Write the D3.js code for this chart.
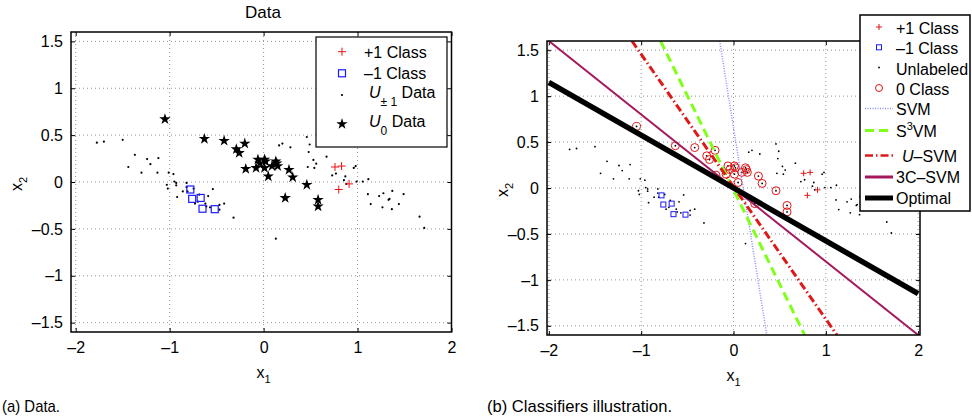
<!DOCTYPE html>
<html>
<head>
<meta charset="utf-8">
<script src="https://cdn.jsdelivr.net/npm/d3@7"></script>
<style>
  body { margin: 0; background: #fff; }
  svg text { font-family: "Liberation Sans", Arial, sans-serif; fill: #000; }
  .caption { font-family: "Liberation Sans Narrow", "Liberation Sans", sans-serif; font-size: 17px; }
</style>
</head>
<body>
<svg id="chart"></svg>
<script>
// ---- data ----
const xTicks = [-2, -1, 0, 1, 2];
const yTicks = [-1.5, -1, -0.5, 0, 0.5, 1, 1.5];

// +1 class (red plus)
const posClass = [[0.76, 0.16], [0.83, 0.17], [0.80, -0.08], [0.91, -0.02]];
// -1 class (blue squares)
const negClass = [[-0.78, -0.08], [-0.76, -0.18], [-0.67, -0.17], [-0.65, -0.285], [-0.52, -0.29]];
// unlabeled points belonging to +1/-1 (small dots)
const unlabeled = [
  [-1.775, 0.42], [-1.70, 0.43], [-1.50, 0.45], [-1.37, 0.29], [-1.44, 0.16], [-1.24, 0.245],
  [-1.205, 0.19], [-1.12, 0.255], [-1.30, 0.10], [-1.13, 0.10], [-1.01, 0.10], [-0.96, 0.085],
  [-0.95, 0.005], [-0.93, -0.01], [-0.93, -0.035], [-1.03, -0.03], [-1.02, -0.07], [-0.92, -0.16],
  [-0.82, -0.01], [-0.82, -0.055], [-0.86, -0.10], [-0.81, -0.10], [-0.745, -0.07], [-0.73, -0.23],
  [-0.70, -0.21], [-0.685, -0.135], [-0.62, -0.23], [-0.61, -0.26], [-0.59, -0.15], [-0.54, -0.075],
  [-0.57, -0.27], [-0.47, -0.245], [-0.47, -0.295], [-0.42, -0.23], [-0.32, -0.38],
  [0.165, 0.39], [0.20, 0.41], [0.285, 0.37], [0.46, 0.48], [0.49, 0.40], [0.48, 0.32],
  [0.53, 0.235], [0.56, 0.195], [0.54, 0.15], [0.47, 0.16], [0.67, 0.27], [0.73, 0.07],
  [0.77, 0.09], [0.87, 0.06], [0.855, 0.02], [0.88, -0.02], [0.96, 0.15], [0.98, 0.17],
  [0.99, 0.005], [1.055, 0.005], [1.115, 0.03], [1.11, -0.13], [1.14, -0.235], [1.23, -0.15],
  [1.265, -0.27], [1.275, -0.12], [1.34, -0.18], [1.33, -0.19], [1.37, -0.095], [1.365, -0.29],
  [1.44, -0.235], [1.49, -0.13], [1.66, -0.37], [1.71, -0.49], [0.13, -0.605]
];
// U0 points (stars left, red circles right)
const zeroClass = [
  [-1.05, 0.67], [-0.63, 0.46], [-0.42, 0.44], [-0.29, 0.35], [-0.26, 0.31], [-0.20, 0.41],
  [-0.19, 0.14], [-0.08, 0.15], [-0.06, 0.24], [-0.04, 0.20], [0.01, 0.24], [0.01, 0.15],
  [0.02, 0.22], [0.09, 0.17], [0.13, 0.22], [0.15, 0.17], [0.14, 0.20], [0.05, 0.06],
  [0.27, 0.13], [0.31, 0.05], [0.23, -0.17], [0.46, -0.03], [0.58, -0.19], [0.58, -0.26]
];
// classifier boundaries (end points)
const svmLine = [[-0.15, 1.6], [0.36, -1.6]];
const s3vmLine = [[-0.79, 1.6], [0.77, -1.6]];
const usvmLine = [[-1.10, 1.6], [1.12, -1.6]];
const c3svmLine = [[-2, 1.6], [2, -1.6]];
const optimalLine = [[-2, 1.15], [2, -1.15]];

const W = 972, H = 417;
const FS = '16px';
const svg = d3.select('#chart').attr('width', W).attr('height', H);
const fmt = d => d < 0 ? '\u2013' + Math.abs(d) : String(d);

function makePanel(id, box) {
  const x = d3.scaleLinear().domain(box.xdom).range([box.left, box.right]);
  const y = d3.scaleLinear().domain([-1.6, 1.6]).range([box.bottom, box.top]);
  const g = svg.append('g').attr('id', id);

  g.append('clipPath').attr('id', id + '-clip')
    .append('rect')
    .attr('x', box.left).attr('y', box.top)
    .attr('width', box.right - box.left).attr('height', box.bottom - box.top);

  // grid
  const grid = g.append('g').attr('stroke', '#777').attr('stroke-width', 0.8).attr('stroke-dasharray', '1,3');
  grid.selectAll('.gx').data(xTicks).enter().append('line')
    .attr('x1', d => x(d)).attr('x2', d => x(d)).attr('y1', box.top).attr('y2', box.bottom);
  grid.selectAll('.gy').data(yTicks).enter().append('line')
    .attr('y1', d => y(d)).attr('y2', d => y(d)).attr('x1', box.left).attr('x2', box.right);

  // axes with inward ticks on all sides
  const tk = 4;
  const axB = g.append('g').attr('transform', `translate(0,${box.bottom})`)
    .call(d3.axisBottom(x).tickValues(xTicks).tickSize(-tk).tickPadding(10).tickFormat(fmt));
  const axT = g.append('g').attr('transform', `translate(0,${box.top})`)
    .call(d3.axisTop(x).tickValues(xTicks).tickSize(-tk).tickFormat(''));
  const axL = g.append('g').attr('transform', `translate(${box.left},0)`)
    .call(d3.axisLeft(y).tickValues(yTicks).tickSize(-tk).tickPadding(8).tickFormat(fmt));
  const axR = g.append('g').attr('transform', `translate(${box.right},0)`)
    .call(d3.axisRight(y).tickValues(yTicks).tickSize(-tk).tickFormat(''));
  [axB, axT, axL, axR].forEach(a => {
    a.select('.domain').remove();
    a.selectAll('line').attr('stroke', '#000');
    a.selectAll('text').style('font-size', FS).style('font-family', '"Liberation Sans", Arial, sans-serif');
  });

  const plot = g.append('g').attr('clip-path', `url(#${id}-clip)`);

  // box
  g.append('rect')
    .attr('x', box.left).attr('y', box.top)
    .attr('width', box.right - box.left).attr('height', box.bottom - box.top)
    .attr('fill', 'none').attr('stroke', '#000').attr('stroke-width', 1.5);

  // axis labels
  const mid = x(0);
  const xl = g.append('text').attr('x', mid).attr('y', box.bottom + 46)
    .attr('text-anchor', 'middle').style('font-size', FS);
  xl.append('tspan').text('x');
  xl.append('tspan').attr('dy', 5).style('font-size', '11px').text('1');

  const yl = g.append('text')
    .attr('transform', `translate(${box.ylabel},${(box.top + box.bottom) / 2 + 2}) rotate(-90)`)
    .attr('text-anchor', 'middle').style('font-size', FS);
  yl.append('tspan').text('x');
  yl.append('tspan').attr('dy', 5).style('font-size', '11px').text('2');

  return { x, y, g, plot };
}

function plusPath(s) {
  return `M${-s},0H${s}M0,${-s}V${s}`;
}

// ---------- panel (a) ----------
const A = makePanel('pa', { left: 71, right: 451.5, top: 32, bottom: 332, ylabel: 22, xdom: [-2.05, 2] });

A.plot.selectAll('.u').data(unlabeled).enter().append('circle')
  .attr('cx', d => A.x(d[0])).attr('cy', d => A.y(d[1])).attr('r', 1.1).attr('fill', '#000');
A.plot.selectAll('.z').data(zeroClass).enter().append('path')
  .attr('transform', d => `translate(${A.x(d[0])},${A.y(d[1])})`)
  .attr('d', d3.symbol(d3.symbolStar, 40)).attr('fill', '#000');
A.plot.selectAll('.p').data(posClass).enter().append('path')
  .attr('transform', d => `translate(${A.x(d[0])},${A.y(d[1])})`)
  .attr('d', plusPath(4)).attr('stroke', '#ee1111').attr('stroke-width', 1).attr('fill', 'none');
A.plot.selectAll('.n').data(negClass).enter().append('rect')
  .attr('x', d => A.x(d[0]) - 3.5).attr('y', d => A.y(d[1]) - 3.5)
  .attr('width', 7).attr('height', 7)
  .attr('fill', 'none').attr('stroke', '#1a1aff').attr('stroke-width', 1.2);

A.g.append('text').attr('x', 263).attr('y', 18).attr('text-anchor', 'middle')
  .style('font-size', '17px').text('Data');

// legend (a)
const LA = A.g.append('g');
LA.append('rect').attr('x', 316).attr('y', 37).attr('width', 131).attr('height', 110)
  .attr('fill', '#fff').attr('stroke', '#000').attr('stroke-width', 1.2);
const la = [51.7, 73.3, 97, 126];
LA.append('path').attr('transform', `translate(342,${la[0]})`).attr('d', plusPath(4))
  .attr('stroke', '#ee1111').attr('fill', 'none');
LA.append('rect').attr('x', 338.5).attr('y', la[1] - 3.5).attr('width', 7).attr('height', 7)
  .attr('fill', 'none').attr('stroke', '#1a1aff').attr('stroke-width', 1.2);
LA.append('circle').attr('cx', 342).attr('cy', la[2] - 2).attr('r', 1.1).attr('fill', '#000');
LA.append('path').attr('transform', `translate(342,${la[3] - 2})`).attr('d', d3.symbol(d3.symbolStar, 40));
LA.append('text').attr('x', 364).attr('y', la[0] + 6).style('font-size', FS).text('+1 Class');
LA.append('text').attr('x', 364).attr('y', la[1] + 6).style('font-size', FS).text('\u20131 Class');
const t3 = LA.append('text').attr('x', 369).attr('y', la[2] + 1).style('font-size', FS);
t3.append('tspan').style('font-style', 'italic').text('U');
t3.append('tspan').attr('dy', 8).style('font-size', '12px').text('\u00b1 1');
t3.append('tspan').attr('dy', -8).text(' Data');
const t4 = LA.append('text').attr('x', 369).attr('y', la[3] + 1).style('font-size', FS);
t4.append('tspan').style('font-style', 'italic').text('U');
t4.append('tspan').attr('dy', 8).style('font-size', '12px').text('0');
t4.append('tspan').attr('dy', -8).text(' Data');

// ---------- panel (b) ----------
const B = makePanel('pb', { left: 547, right: 920, top: 41, bottom: 335, ylabel: 508, xdom: [-2.02, 2.02] });

B.plot.selectAll('.u').data(unlabeled.concat(zeroClass)).enter().append('circle')
  .attr('cx', d => B.x(d[0])).attr('cy', d => B.y(d[1])).attr('r', 0.9).attr('fill', '#000');
B.plot.selectAll('.z').data(zeroClass).enter().append('circle')
  .attr('cx', d => B.x(d[0])).attr('cy', d => B.y(d[1])).attr('r', 4)
  .attr('fill', 'none').attr('stroke', '#e01515').attr('stroke-width', 1);
B.plot.selectAll('.p').data(posClass).enter().append('path')
  .attr('transform', d => `translate(${B.x(d[0])},${B.y(d[1])})`)
  .attr('d', plusPath(3)).attr('stroke', '#e01515').attr('stroke-width', 1).attr('fill', 'none');
B.plot.selectAll('.n').data(negClass).enter().append('rect')
  .attr('x', d => B.x(d[0]) - 2.5).attr('y', d => B.y(d[1]) - 2.5)
  .attr('width', 5).attr('height', 5)
  .attr('fill', 'none').attr('stroke', '#1a1aff').attr('stroke-width', 1);

const lineStyles = [
  { name: 'svm', pts: svmLine, color: '#8c8cff', width: 1.5, dash: '1,1.5', lw: 1.5 },
  { name: 's3vm', pts: s3vmLine, color: '#80ff1a', width: 3, dash: '9,5', lw: 3 },
  { name: 'usvm', pts: usvmLine, color: '#dd1a1a', width: 3, dash: '8,3,1.5,3', lw: 2.5 },
  { name: 'c3svm', pts: c3svmLine, color: '#a3195b', width: 2, dash: null, lw: 3 },
  { name: 'optimal', pts: optimalLine, color: '#000', width: 5.5, dash: null, lw: 5 }
];
const lineGen = d3.line().x(d => B.x(d[0])).y(d => B.y(d[1]));
lineStyles.forEach(s => {
  B.plot.append('path').datum(s.pts).attr('d', lineGen)
    .attr('fill', 'none').attr('stroke', s.color).attr('stroke-width', s.width)
    .attr('stroke-dasharray', s.dash);
});

// legend (b)
const LB = B.g.append('g');
LB.append('rect').attr('x', 860).attr('y', 15).attr('width', 110).attr('height', 196)
  .attr('fill', '#fff').attr('stroke', '#000').attr('stroke-width', 1.5);
const lb = [29, 49.3, 69.5, 90, 109.5, 131.5, 156.5, 178, 199];
const mx = 879;
LB.append('path').attr('transform', `translate(${mx},${lb[0] - 2})`).attr('d', plusPath(3))
  .attr('stroke', '#e01515').attr('fill', 'none');
LB.append('rect').attr('x', mx - 2.5).attr('y', lb[1] - 4.5).attr('width', 5).attr('height', 5)
  .attr('fill', 'none').attr('stroke', '#1a1aff');
LB.append('circle').attr('cx', mx).attr('cy', lb[2] - 2).attr('r', 0.9).attr('fill', '#000');
LB.append('circle').attr('cx', mx).attr('cy', lb[3] - 2).attr('r', 3.5)
  .attr('fill', 'none').attr('stroke', '#e01515');
lineStyles.forEach((s, i) => {
  LB.append('line').attr('x1', 865).attr('x2', 893).attr('y1', lb[4 + i] - 1).attr('y2', lb[4 + i] - 1)
    .attr('stroke', s.color).attr('stroke-width', s.lw).attr('stroke-dasharray', s.dash);
});
const lbText = (i, dx) => LB.append('text').attr('x', 896 + (dx || 0)).attr('y', lb[i] + 5).style('font-size', FS);
lbText(0).text('+1 Class');
lbText(1).text('\u20131 Class');
lbText(2).text('Unlabeled');
lbText(3).text('0 Class');
lbText(4).text('SVM');
const s3 = lbText(5);
s3.append('tspan').text('S');
s3.append('tspan').attr('dy', -7).style('font-size', '11px').text('3');
s3.append('tspan').attr('dy', 7).text('VM');
const us = lbText(6, 6);
us.append('tspan').style('font-style', 'italic').text('U');
us.append('tspan').text('\u2013SVM');
lbText(7).text('3C\u2013SVM');
lbText(8).text('Optimal');

// captions
svg.append('text').attr('class', 'caption').attr('x', 2).attr('y', 412)
  .attr('textLength', 58).attr('lengthAdjust', 'spacingAndGlyphs').text('(a) Data.');
svg.append('text').attr('class', 'caption').attr('x', 487).attr('y', 412)
  .attr('textLength', 185).attr('lengthAdjust', 'spacingAndGlyphs').text('(b) Classifiers illustration.');
</script>
</body>
</html>
